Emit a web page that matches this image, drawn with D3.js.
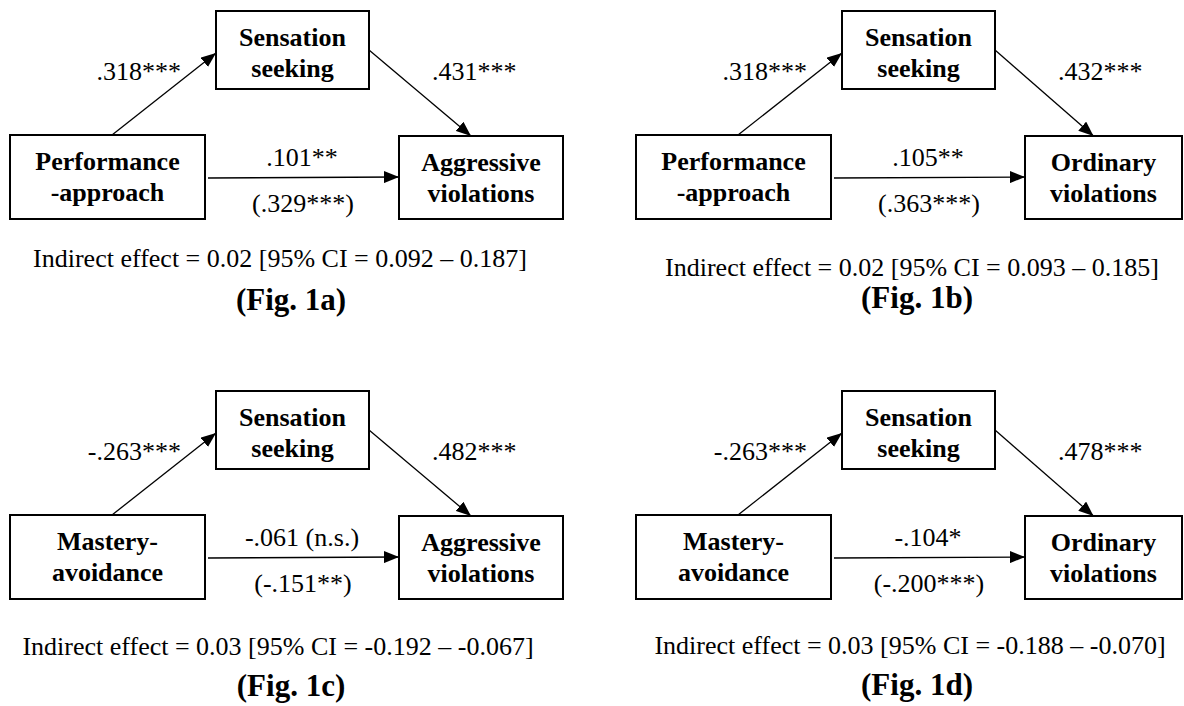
<!DOCTYPE html>
<html>
<head>
<meta charset="utf-8">
<script src="https://cdn.jsdelivr.net/npm/d3@7"></script>
<style>
  html, body { margin: 0; padding: 0; background: #fff; }
  svg { display: block; }
</style>
</head>
<body>
<svg id="chart"></svg>
<script>
// ---- data ----
const figLabels = ['(Fig. 1a)', '(Fig. 1b)', '(Fig. 1c)', '(Fig. 1d)'];
const predictors = [['Performance', '-approach'], ['Performance', '-approach'], ['Mastery-', 'avoidance'], ['Mastery-', 'avoidance']];
const mediators = [['Sensation', 'seeking'], ['Sensation', 'seeking'], ['Sensation', 'seeking'], ['Sensation', 'seeking']];
const outcomes = [['Aggressive', 'violations'], ['Ordinary', 'violations'], ['Aggressive', 'violations'], ['Ordinary', 'violations']];
const pathA = ['.318***', '.318***', '-.263***', '-.263***'];
const pathB = ['.431***', '.432***', '.482***', '.478***'];
const directPath = ['.101**', '.105**', '-.061 (n.s.)', '-.104*'];
const totalPath = ['(.329***)', '(.363***)', '(-.151**)', '(-.200***)'];
const indirectEffect = ['0.02', '0.02', '0.03', '0.03'];
const ciLow = ['0.092', '0.093', '-0.192', '-0.188'];
const ciHigh = ['0.187', '0.185', '-0.067', '-0.070'];

const width = 1184, height = 706;

// panel origins (top-left of the mediator row / predictor box)
const colX = d3.scaleOrdinal().domain([0, 1]).range([10, 636]);
const rowY = d3.scaleOrdinal().domain([0, 1]).range([11, 391]);
const outW = d3.scaleOrdinal().domain([0, 1]).range([164, 157]);
// caption offsets differ a little from panel to panel
const captionY = [256, 265, 264, 263];
const captionX = [270, 276, 268, 274];
const figY = [299, 297, 305, 304];

const serif = 'Liberation Serif, Times New Roman, serif';

const svg = d3.select('#chart')
  .attr('width', width)
  .attr('height', height)
  .attr('viewBox', `0 0 ${ width } ${ height }`)
  .style('background', '#fff');

svg.append('defs').append('marker')
  .attr('id', 'head')
  .attr('viewBox', '0 -6 15 12')
  .attr('refX', 15)
  .attr('refY', 0)
  .attr('markerUnits', 'userSpaceOnUse')
  .attr('markerWidth', 15)
  .attr('markerHeight', 12)
  .attr('orient', 'auto')
  .append('path')
  .attr('d', 'M0,-6L15,0L0,6Z')
  .attr('fill', '#000');

const panels = figLabels.map((f, i) => ({
  i,
  col: i % 2,
  row: Math.floor(i / 2)
}));

const panel = svg.selectAll('g.panel')
  .data(panels)
  .join('g')
  .attr('class', 'panel')
  .attr('font-family', serif)
  .attr('fill', '#000')
  .attr('transform', d => `translate(${ colX(d.col) }, ${ rowY(d.row) })`);

panel.each(function (d) {
  const g = d3.select(this);
  const i = d.i;
  const boxes = [
    { x: 0, y: 124, w: 195, h: 84, lines: predictors[i] },
    { x: 206, y: 0, w: 153, h: 78, lines: mediators[i] },
    { x: 389, y: 125, w: outW(d.col), h: 83, lines: outcomes[i] }
  ];
  const [pred, med, out] = boxes;

  // paths: a, b, c'
  const arrows = [
    { x1: pred.x + 102, y1: pred.y, x2: med.x, y2: med.y + 42 },
    { x1: med.x + med.w, y1: med.y + 39, x2: out.x + out.w / 2 - 10, y2: out.y },
    { x1: pred.x + pred.w + 3, y1: 167, x2: out.x, y2: 166 }
  ];
  g.selectAll('line.path')
    .data(arrows)
    .join('line')
    .attr('class', 'path')
    .attr('x1', a => a.x1)
    .attr('y1', a => a.y1)
    .attr('x2', a => a.x2)
    .attr('y2', a => a.y2)
    .attr('stroke', '#000')
    .attr('stroke-width', 1.3)
    .attr('marker-end', 'url(#head)');

  const box = g.selectAll('g.box')
    .data(boxes)
    .join('g')
    .attr('class', 'box');
  box.append('rect')
    .attr('x', b => b.x)
    .attr('y', b => b.y)
    .attr('width', b => b.w)
    .attr('height', b => b.h)
    .attr('fill', '#fff')
    .attr('stroke', '#000')
    .attr('stroke-width', 2);
  box.selectAll('text')
    .data(b => b.lines.map((t, k) => ({ t, k, b })))
    .join('text')
    .attr('x', l => l.b.x + l.b.w / 2)
    .attr('y', l => l.b.y + 35 + l.k * 31)
    .attr('text-anchor', 'middle')
    .attr('font-size', 26)
    .attr('font-weight', 'bold')
    .text(l => l.t);

  const labels = [
    { t: pathA[i], x: 171, y: 69, anchor: 'end' },
    { t: pathB[i], x: 422, y: 69, anchor: 'start' },
    { t: directPath[i], x: 292, y: 155, anchor: 'middle' },
    { t: totalPath[i], x: 293, y: 201, anchor: 'middle' },
    { t: `Indirect effect = ${ indirectEffect[i] } [95% CI = ${ ciLow[i] } \u2013 ${ ciHigh[i] }]`, x: captionX[i], y: captionY[i], anchor: 'middle' }
  ];
  g.selectAll('text.coef')
    .data(labels)
    .join('text')
    .attr('class', 'coef')
    .attr('x', l => l.x)
    .attr('y', l => l.y)
    .attr('text-anchor', l => l.anchor)
    .attr('font-size', 26)
    .text(l => l.t);

  g.append('text')
    .attr('x', 281)
    .attr('y', figY[i])
    .attr('text-anchor', 'middle')
    .attr('font-size', 31)
    .attr('font-weight', 'bold')
    .text(figLabels[i]);
});
</script>
</body>
</html>
